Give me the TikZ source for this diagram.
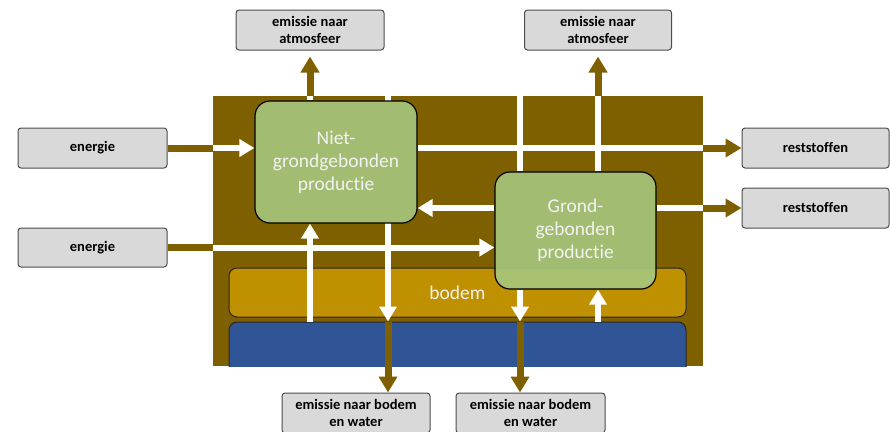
\documentclass[tikz,border=0pt]{standalone}
\usepackage{fontspec}
\setmainfont{Carlito}[Ligatures=NoCommon]
\usetikzlibrary{arrows.meta,positioning,calc}
\definecolor{brn}{HTML}{7F6000}
\definecolor{gld}{HTML}{BF9000}
\definecolor{blu}{HTML}{2F5597}
\definecolor{grn}{HTML}{A2BD72}
\definecolor{grnlt}{HTML}{A7CA82}
\definecolor{gry}{HTML}{D9D9D9}
\pgfdeclarelayer{background}
\pgfdeclarelayer{flows}
\pgfsetlayers{background,flows,main}
\tikzset{
  lblbox/.style={draw=black!70,fill=gry,rounded corners=3pt,line width=1pt,minimum width=148pt,minimum height=40pt,align=center,font=\bfseries\fontsize{14.5}{17}\selectfont},
  prodbox/.style={draw=black,fill=grn,rounded corners=15pt,line width=1.2pt,align=center,text=black!5,font=\fontsize{19.5}{23}\selectfont},
  layer/.style={draw=black!85,rounded corners=8pt,line width=1pt,minimum width=457pt},
  wline/.style={draw=white,line width=6pt},
  warr/.style={wline,-{Triangle[length=15pt,width=17pt]}},
  bline/.style={draw=brn,line width=7pt},
  barr/.style={bline,-{Triangle[length=16pt,width=18pt]}}
}
\begin{document}
\begin{tikzpicture}[x=1pt,y=-1pt]
  \useasboundingbox (0,0) rectangle (890,431);
  % Background and soil layers
  \begin{pgfonlayer}{background}
    \node[fill=brn,minimum width=490pt,minimum height=270pt,inner sep=0pt] (bg) at (458,231) {};
    \node[layer,fill=gld,minimum height=49pt,text=black!5,font=\fontsize{19.5}{23}\selectfont] (bodem) at (457.5,292.5) {bodem};
    \begin{scope}
      \clip (bg.north west) rectangle (bg.south east);
      \node[layer,fill=blu,minimum height=58pt] (water) at (457.5,351) {};
    \end{scope}
  \end{pgfonlayer}

  % Production boxes
  \node[prodbox,minimum width=162pt,minimum height=122pt] (niet) at (336,162) {Niet-\\grondgebonden\\productie};
  \node[prodbox,fill=grnlt,fill opacity=0.88,text opacity=1,minimum width=161pt,minimum height=117pt] (grond) at (575.5,230.5) {Grond-\\gebonden\\productie};

  % Outer label boxes
  \node[lblbox] (atm1) at (310,30) {emissie naar\\atmosfeer};
  \node[lblbox,minimum width=147pt] (atm2) at (598,30) {emissie naar\\atmosfeer};
  \node[lblbox,minimum width=149pt] (en1) at (92.5,148) {energie};
  \node[lblbox,minimum width=149pt,minimum height=39pt] (en2) at (92.5,247.5) {energie};
  \node[lblbox,minimum width=147pt] (rest1) at (815.5,148) {reststoffen};
  \node[lblbox,minimum width=147pt] (rest2) at (815.5,208) {reststoffen};
  \node[lblbox] (bw1) at (356,413) {emissie naar bodem\\en water};
  \node[lblbox,minimum width=149pt] (bw2) at (530.5,413) {emissie naar bodem\\en water};

  % Columns of the vertical flows
  \coordinate (colA) at (388,0);
  \coordinate (colB) at (520,0);

  \begin{pgfonlayer}{flows}
    % Vertical flows
    \draw[wline] (atm1 |- bg.north) -- (atm1 |- niet.north);
    \draw[warr] (atm1 |- water.north) -- (atm1 |- niet.south);
    \draw[warr] (colA |- bg.north) -- (colA |- water.north);
    \draw[wline] (colB |- bg.north) -- (colB |- grond.north);
    \draw[warr] (colB |- grond.south) -- (colB |- water.north);
    \draw[wline] (atm2 |- grond.north) -- (atm2 |- bg.north);
    \draw[warr] (atm2 |- water.north) -- (atm2 |- grond.south);
    % Horizontal flows
    \draw[warr] (en1 -| bg.west) -- (en1 -| niet.west);
    \draw[wline] (en1 -| niet.east) -- (en1 -| bg.east);
    \draw[warr] (rest2 -| grond.west) -- (rest2 -| niet.east);
    \draw[wline] (rest2 -| grond.east) -- (rest2 -| bg.east);
    \draw[warr] (en2 -| bg.west) -- (en2 -| grond.west);
  \end{pgfonlayer}

  % Flows outside the system
  \draw[barr,shorten >=6pt] (atm1 |- bg.north) -- (atm1.south);
  \draw[barr,shorten >=6pt] (atm2 |- bg.north) -- (atm2.south);
  \draw[barr] (colA |- water.north) -- (colA |- bw1.north);
  \draw[barr] (colB |- water.north) -- (colB |- bw2.north);
  \draw[bline] (en1.east) -- (en1 -| bg.west);
  \draw[bline] (en2.east) -- (en2 -| bg.west);
  \draw[barr] (en1 -| bg.east) -- (rest1.west);
  \draw[barr] (rest2 -| bg.east) -- (rest2.west);
\end{tikzpicture}
\end{document}
